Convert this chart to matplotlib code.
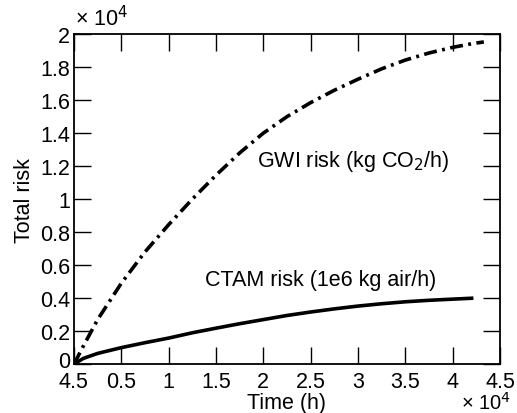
import matplotlib
matplotlib.use("Agg")
import matplotlib.pyplot as plt
import matplotlib.transforms as mtransforms

plt.rcParams['font.family'] = ['Liberation Sans', 'DejaVu Sans']

# Data (hours, risk)
gwi_time = [0, 1000, 2500, 5000, 7500, 10000, 12500, 15000, 17500, 20000, 22500,
            25000, 27500, 30000, 32500, 35000, 37500, 40000, 42000, 43300]
gwi_risk = [0, 1100, 2700, 4900, 6800, 8450, 10000, 11450, 12800, 14000, 15000,
            15850, 16600, 17270, 17900, 18430, 18860, 19200, 19420, 19530]
ctam_time = [0, 1000, 2500, 5000, 7500, 10000, 12500, 15000, 17500, 20000, 22500,
             25000, 27500, 30000, 32500, 35000, 37500, 40000, 42200]
ctam_risk = [0, 350, 650, 1000, 1300, 1580, 1900, 2180, 2450, 2700, 2950,
             3160, 3350, 3520, 3660, 3780, 3870, 3940, 4000]

x_ticks = [0, 5000, 10000, 15000, 20000, 25000, 30000, 35000, 40000, 45000]
x_ticklabels = ['4.5', '0.5', '1', '1.5', '2', '2.5', '3', '3.5', '4', '4.5']
y_ticks = [0, 2000, 4000, 6000, 8000, 10000, 12000, 14000, 16000, 18000, 20000]
y_ticklabels = ['0', '0.2', '0.4', '0.6', '0.8', '1', '1.2', '1.4', '1.6', '1.8', '2']

FS = 15.5

fig = plt.figure(figsize=(5.17, 4.14), dpi=100)
ax = fig.add_axes([0.143, 0.118, 0.824, 0.797])

ax.plot(gwi_time, gwi_risk, color='black', lw=2.6, dashes=[3.6, 1.5, 0.8, 1.5],
        dash_capstyle='butt', solid_joinstyle='round')
ax.plot(ctam_time, ctam_risk, color='black', lw=2.6, solid_capstyle='butt',
        solid_joinstyle='round')

ax.set_xlim(0, 45000)
ax.set_ylim(0, 20000)
ax.set_xticks(x_ticks)
ax.set_xticklabels(x_ticklabels)
ax.set_yticks(y_ticks)
ax.set_yticklabels(y_ticklabels)
ax.tick_params(direction='in', length=12, width=1, top=True, right=True,
               labelsize=FS)
ax.tick_params(axis='x', pad=5)
ax.tick_params(axis='y', pad=3)
for s in ax.spines.values():
    s.set_linewidth(1.3)

# nudge the bottom "0" label up slightly, as in the reference
zero_lbl = ax.get_yticklabels()[0]
zero_lbl.set_transform(zero_lbl.get_transform() +
                       mtransforms.ScaledTranslation(0, 4 / 72, fig.dpi_scale_trans))

ax.set_xlabel('Time (h)', fontsize=FS, labelpad=0)
ax.set_ylabel('Total risk', fontsize=FS, labelpad=3)

ax.text(19300, 12360, 'GWI risk (kg CO$_2$/h)', fontsize=FS, va='center', ha='left')
ax.text(13800, 5150, 'CTAM risk (1e6 kg air/h)', fontsize=FS, va='center', ha='left')

fig.text(0.146, 0.955, '× 10$^4$', fontsize=FS, ha='left', va='center')
fig.text(0.988, 0.027, '× 10$^4$', fontsize=14.5, ha='right', va='center')

fig.savefig('out.png', dpi=100)
